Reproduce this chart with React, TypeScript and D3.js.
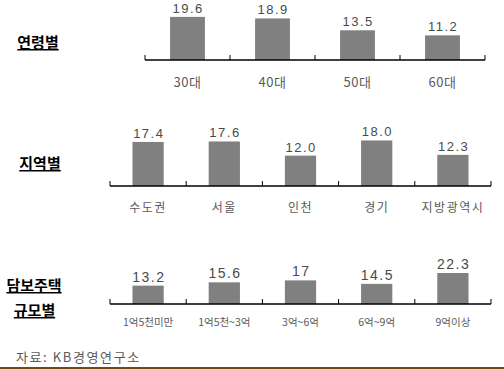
import React from 'react';
import * as d3 from 'd3';

const ageCats = ['30대', '40대', '50대', '60대'];
const ageValues = [19.6, 18.9, 13.5, 11.2];
const ageLabels = ['19.6', '18.9', '13.5', '11.2'];

const regionCats = ['수도권', '서울', '인천', '경기', '지방광역시'];
const regionValues = [17.4, 17.6, 12.0, 18.0, 12.3];
const regionLabels = ['17.4', '17.6', '12.0', '18.0', '12.3'];

const sizeCats = ['1억5천미만', '1억5천~3억', '3억~6억', '6억~9억', '9억이상'];
const sizeValues = [13.2, 15.6, 17, 14.5, 22.3];
const sizeLabels = ['13.2', '15.6', '17', '14.5', '22.3'];

const KR = '"Noto Sans CJK KR", "Noto Sans", sans-serif';
const NUM = '"Liberation Sans", Arial, sans-serif';

interface PanelProps {
  cats: string[];
  values: number[];
  labels: string[];
  x0: number;
  x1: number;
  axisY: number;
  pxPerUnit: number;
  valueSize: number;
  catSize: number;
  catY: number;
  catSpacing?: number;
}

const Panel: React.FC<PanelProps> = ({ cats, values, labels, x0, x1, axisY, pxPerUnit, valueSize, catSize, catY, catSpacing }) => {
  const x = d3.scaleBand<string>()
    .domain(cats)
    .range([x0, x1])
    .paddingInner(0.59)
    .paddingOuter(0.295);
  const y = d3.scaleLinear()
    .domain([0, 25])
    .range([axisY, axisY - 25 * pxPerUnit]);
  const step = x.step();
  const ticks = d3.range(cats.length + 1).map(i => x0 + i * step);

  return (
    <g>
      {cats.map((c, i) => (
        <g key={c}>
          <rect x={x(c)} y={y(values[i])} width={x.bandwidth()} height={axisY - y(values[i])} fill="#808080" />
          <text x={x(c)! + x.bandwidth() / 2 + 0.7} y={y(values[i]) - 4} textAnchor="middle"
            fontFamily={NUM} fontSize={valueSize} fill="#4a4a4a" letterSpacing={1.5}>{labels[i]}</text>
          <text x={x(c)! + x.bandwidth() / 2} y={catY} textAnchor="middle"
            fontFamily={KR} fontSize={catSize} fill="#5a5a5a" letterSpacing={catSpacing ?? 0}>{c}</text>
        </g>
      ))}
      <line x1={x0} x2={x1} y1={axisY} y2={axisY} stroke="#000" strokeWidth={1.5} />
      {ticks.map((t, i) => (
        <line key={i} x1={t} x2={t} y1={axisY} y2={axisY - 5} stroke="#000" strokeWidth={1} />
      ))}
    </g>
  );
};

const titleStyle = {
  fontFamily: KR,
  fontSize: 15,
  fontWeight: 700,
  fill: '#000',
  textDecoration: 'underline',
};

export default function App() {
  return (
    <svg width={504} height={369} style={{ position: 'absolute', left: 0, top: 0, background: '#fff' }}>
      <text x={38} y={48} textAnchor="middle" style={titleStyle}>연령별</text>
      <text x={40} y={169} textAnchor="middle" style={titleStyle}>지역별</text>
      <text x={34} y={291} textAnchor="middle" style={titleStyle}>담보주택</text>
      <text x={34.5} y={316} textAnchor="middle" style={titleStyle}>규모별</text>

      <Panel cats={ageCats} values={ageValues} labels={ageLabels}
        x0={145} x1={485} axisY={60} pxPerUnit={2.2}
        valueSize={13} catSize={13} catY={87} catSpacing={0.5} />
      <Panel cats={regionCats} values={regionValues} labels={regionLabels}
        x0={110} x1={491} axisY={186} pxPerUnit={2.53}
        valueSize={13} catSize={12} catY={212} catSpacing={1.5} />
      <Panel cats={sizeCats} values={sizeValues} labels={sizeLabels}
        x0={110} x1={491} axisY={304} pxPerUnit={1.39}
        valueSize={14} catSize={10.5} catY={326} />

      <text x={16} y={362} fontFamily={KR} fontSize={13} fill="#5a5a5a" letterSpacing={1.6}>자료: KB경영연구소</text>
      <line x1={0} x2={504} y1={368} y2={368} stroke="#6b4b16" strokeWidth={2} />
    </svg>
  );
}
